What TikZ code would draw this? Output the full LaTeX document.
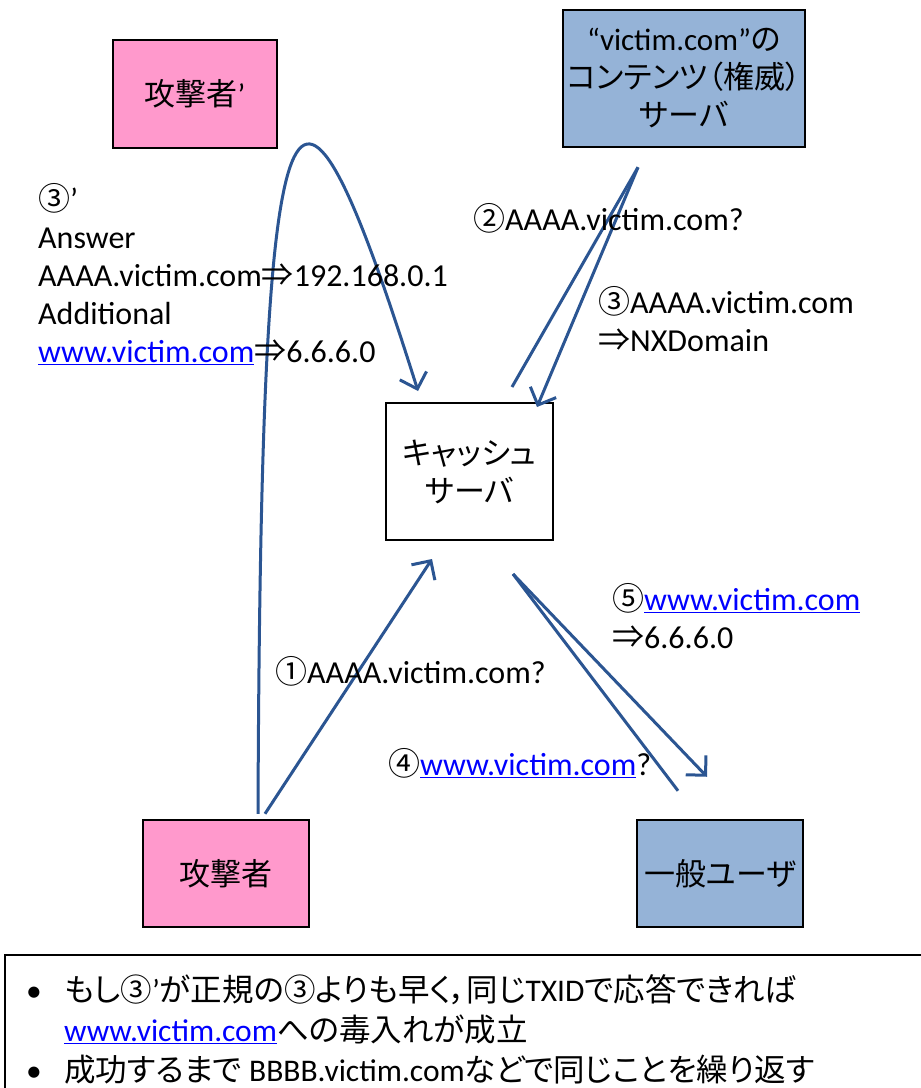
\documentclass[tikz,border=0pt]{standalone}
\usepackage{fontspec}
\setmainfont{Carlito}
\newfontfamily\jp[RawFeature={+palt}]{Noto Sans CJK JP}
\usetikzlibrary{arrows.meta}
\definecolor{pinkfill}{HTML}{FF99CC}
\definecolor{bluefill}{HTML}{95B3D7}
\definecolor{arrowblue}{HTML}{2B5592}
\definecolor{linkblue}{HTML}{0000FF}
\newcommand{\lnk}[1]{\textcolor{linkblue}{\underline{#1}}}
\begin{document}
\begin{tikzpicture}[x=1pt,y=-1pt,
  font=\fontsize{31}{38}\selectfont,
  box/.style={draw=black, line width=2.5pt, align=center, inner sep=0pt},
  pinkbox/.style={box, fill=pinkfill},
  bluebox/.style={box, fill=bluefill},
  whitebox/.style={box, fill=white, line width=2pt},
  lbl/.style={anchor=west, align=left, inner sep=0pt, font=\fontsize{32}{38}\selectfont},
  conn/.style={draw=arrowblue, line width=3pt},
  arr/.style={conn, -{Straight Barb[length=14pt,width=28pt]}},
  notetext/.style={anchor=west, align=left, inner sep=0pt, font=\fontsize{31.5}{40}\selectfont}]
\useasboundingbox (0,0) rectangle (921,1088);
\fill[white] (0,0) rectangle (921,1088);

% nodes
\node[pinkbox, minimum width=164, minimum height=108] (att2) at (195,94) {{\jp 攻撃者}’};
\node[bluebox, minimum width=242, minimum height=137] (srv) at (684,78.5)
  {“victim.com”{\jp の}\\{\jp コンテンツ（権威）}\\{\jp サーバ}};
\node[whitebox, minimum width=167, minimum height=137] (cache) at (469.5,471.5)
  {{\jp キャッシュ}\\{\jp サーバ}};
\node[pinkbox, minimum width=166, minimum height=107] (att) at (226,873.5) {{\jp 攻撃者}};
\node[bluebox, minimum width=166, minimum height=107] (user) at (720,873.5) {{\jp 一般ユーザ}};

% connectors
\draw[arr] ([xshift=39pt,yshift=5pt]att.north) -- ([xshift=-37.5pt,yshift=-18pt]cache.south);
\draw[arr] ([xshift=32pt,yshift=5pt]att.north) .. controls +(3,-772) and +(-126,-400) .. ([xshift=-51.5pt,yshift=11pt]cache.north);
\draw[conn] ([xshift=42.5pt,yshift=15pt]cache.north) -- ([xshift=-46pt,yshift=-19pt]srv.south);
\draw[arr] ([xshift=-46pt,yshift=-19pt]srv.south) -- ([xshift=67.5pt,yshift=-5pt]cache.north);
\draw[conn] ([xshift=-42pt,yshift=28pt]user.north) -- ([xshift=43.5pt,yshift=-33pt]cache.south);
\draw[arr] ([xshift=43.5pt,yshift=-33pt]cache.south) -- ([xshift=-13pt,yshift=42pt]user.north);

% labels
\node[lbl] (l3p) at (38,274) {{\jp ③}’\\Answer\\AAAA.victim.com{\jp ⇒}192.168.0.1\\Additional\\\lnk{www.victim.com}{\jp ⇒}6.6.6.0};
\node[lbl] (l2) at (473,218) {{\jp ②}AAAA.victim.com?};
\node[lbl] (l3) at (598,319) {{\jp ③}AAAA.victim.com\\{\jp ⇒}NXDomain};
\node[lbl] (l5) at (612,616) {{\jp ⑤}\lnk{www.victim.com}\\{\jp ⇒}6.6.6.0};
\node[lbl] (l1) at (275,671) {{\jp ①}AAAA.victim.com?};
\node[lbl] (l4) at (388,763) {{\jp ④}\lnk{www.victim.com}?};

% note box
\begin{scope}
\clip (0,0) rectangle (921,1088);
\draw[line width=2.5pt] (5,955) rectangle (940,1110);
\end{scope}
\node[notetext] (note) at (26,1029)
 {\makebox[38pt][l]{•}{\jp もし③}’{\jp が正規の③よりも早く，同じ}TXID{\jp で応答できれば}\\
  \hspace*{38pt}\lnk{www.victim.com}{\jp への毒入れが成立}\\
  \makebox[38pt][l]{•}{\jp 成功するまで} BBBB.victim.com{\jp などで同じことを繰り返す}};
\end{tikzpicture}
\end{document}
